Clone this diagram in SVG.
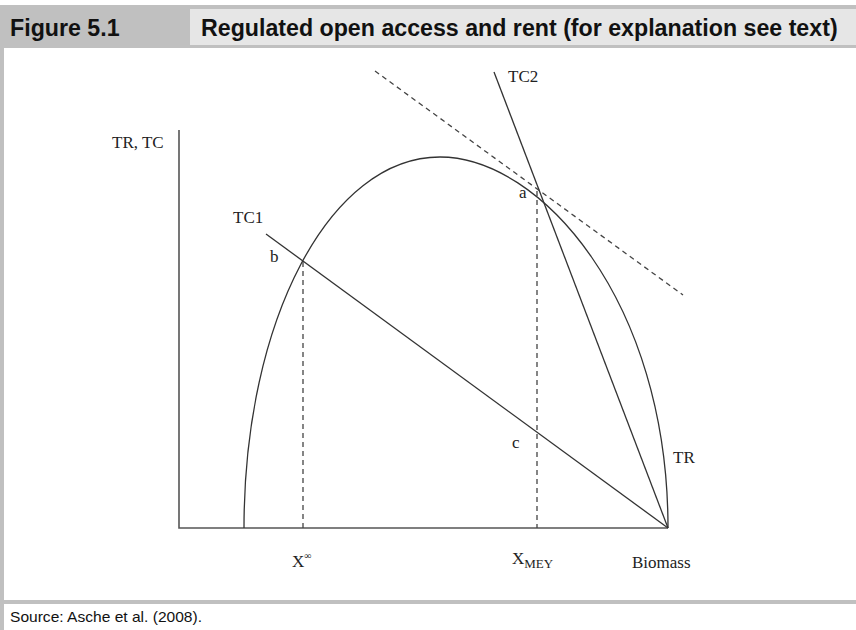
<svg xmlns="http://www.w3.org/2000/svg" width="856" height="630" viewBox="0 0 856 630">
<style>
.lbl{font-family:"Liberation Serif","Times New Roman",serif;font-size:17px;fill:#222}
.hdr{font-family:"Liberation Sans",Arial,sans-serif;font-weight:bold;font-size:24px;fill:#111}
.src{font-family:"Liberation Sans",Arial,sans-serif;font-size:15px;fill:#111}
.ln{stroke:#333;stroke-width:1.3;fill:none}
.ax{stroke:#555;stroke-width:1.6;fill:none}
.dash{stroke:#444;stroke-width:1.3;fill:none;stroke-dasharray:5 4}
</style>
<rect x="0" y="0" width="856" height="630" fill="#fff"/>
<g id="frame">
<rect x="0" y="5" width="856" height="43" fill="#c0c0c0"/>
<rect x="190" y="9" width="666" height="36" fill="#e6e6e6"/>
<rect x="0" y="48" width="4" height="582" fill="#c0c0c0"/>
<rect x="0" y="600" width="856" height="4" fill="#c0c0c0"/>
<text class="hdr" transform="translate(10,36) scale(0.85,1)" x="0" y="0" textLength="129" lengthAdjust="spacingAndGlyphs">Figure 5.1</text>
<text class="hdr" transform="translate(201,36) scale(0.83,1)" x="0" y="0" textLength="767" lengthAdjust="spacingAndGlyphs">Regulated open access and rent (for explanation see text)</text>
<text class="src" x="10" y="622" textLength="192" lengthAdjust="spacingAndGlyphs">Source: Asche et al. (2008).</text>
</g>
<g id="axes">
<path class="ax" d="M179,130 V528 H668"/>
<text class="lbl" x="112" y="148">TR, TC</text>
<text class="lbl" x="632" y="568">Biomass</text>
</g>
<g id="connectors">
<path id="tr-curve" class="ln" d="M244,528 C244,320 330,157 440,157 C540,157 668,300 668,528"/>
<path id="tc1" class="ln" d="M266,234 L668,528"/>
<path id="tc2" class="ln" d="M494,72 L668,528"/>
<path id="tangent" class="dash" d="M375,71 L683,295"/>
<path id="x-inf-line" class="dash" d="M303,262 V528"/>
<path id="x-mey-line" class="dash" d="M537,191 V528"/>
</g>
<g id="labels">
<text class="lbl" x="233" y="223">TC1</text>
<text class="lbl" x="508" y="82">TC2</text>
<text class="lbl" x="673" y="463">TR</text>
<text class="lbl" x="519" y="198">a</text>
<text class="lbl" x="270" y="262">b</text>
<text class="lbl" x="512" y="448">c</text>
<text class="lbl" x="292" y="567">X<tspan font-size="10" dy="-8">∞</tspan></text>
<text class="lbl" x="512" y="564">X<tspan font-size="13" dy="4">MEY</tspan></text>
</g>
</svg>
